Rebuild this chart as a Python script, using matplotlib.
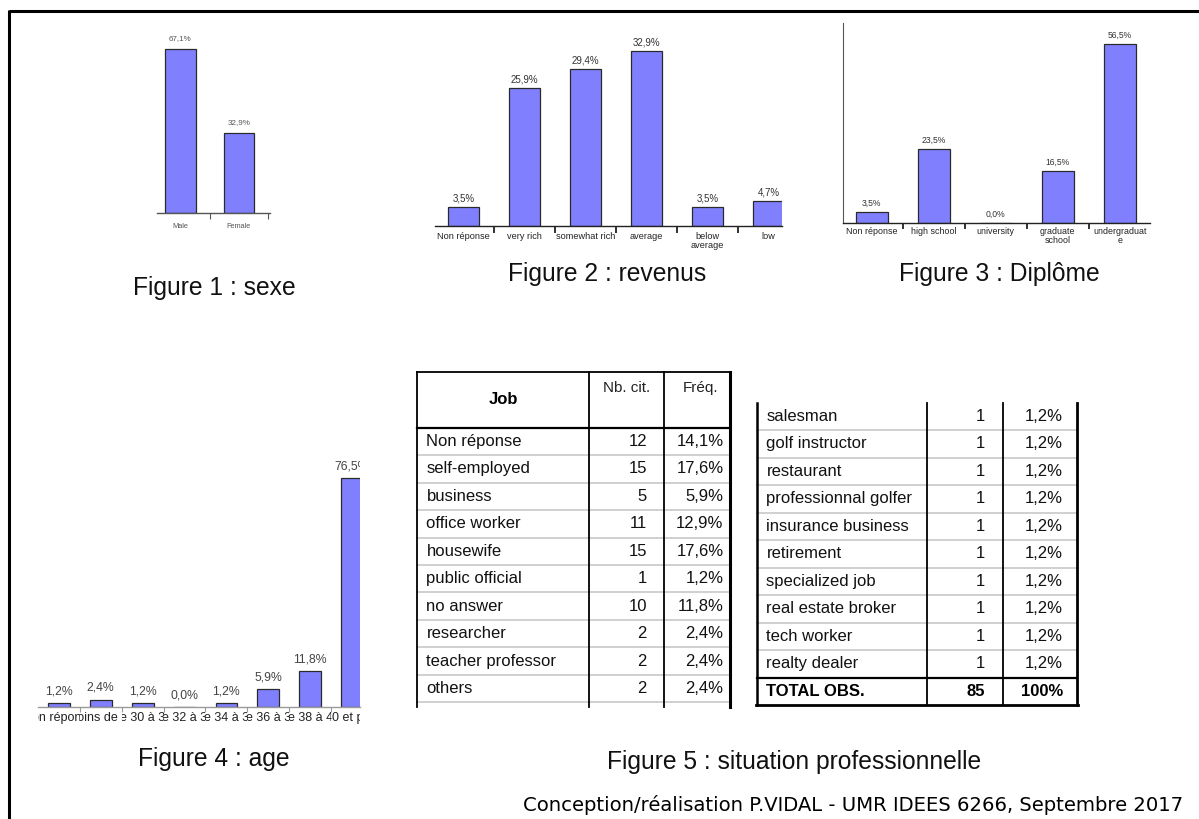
import matplotlib
matplotlib.use('Agg')
import matplotlib.pyplot as plt
from matplotlib import font_manager
from matplotlib.transforms import blended_transform_factory, Bbox, TransformedBbox

plt.rcParams['font.family'] = ['Liberation Sans', 'DejaVu Sans']

W, H = 1199, 819

# ---- data ----
sexe_labels = ['Male', 'Female']
sexe_pct = [67.1, 32.9]

revenus_labels = ['Non réponse', 'very rich', 'somewhat rich', 'average', 'below\naverage', 'low']
revenus_pct = [3.5, 25.9, 29.4, 32.9, 3.5, 4.7]

diplome_labels = ['Non réponse', 'high school', 'university', 'graduate\nschool', 'undergraduat\ne']
diplome_pct = [3.5, 23.5, 0.0, 16.5, 56.5]

age_labels = ['Non réponse', 'moins de 30', 'de 30 à 32', 'de 32 à 34', 'de 34 à 36',
              'de 36 à 38', 'de 38 à 40', '40 et plus']
age_pct = [1.2, 2.4, 1.2, 0.0, 1.2, 5.9, 11.8, 76.5]

jobs_a = ['Non réponse', 'self-employed', 'business', 'office worker', 'housewife',
          'public official', 'no answer', 'researcher', 'teacher professor', 'others']
cit_a = [12, 15, 5, 11, 15, 1, 10, 2, 2, 2]
freq_a = [14.1, 17.6, 5.9, 12.9, 17.6, 1.2, 11.8, 2.4, 2.4, 2.4]

jobs_b = ['salesman', 'golf instructor', 'restaurant', 'professionnal golfer', 'insurance business',
          'retirement', 'specialized job', 'real estate broker', 'tech worker', 'realty dealer']
cit_b = [1, 1, 1, 1, 1, 1, 1, 1, 1, 1]
freq_b = [1.2, 1.2, 1.2, 1.2, 1.2, 1.2, 1.2, 1.2, 1.2, 1.2]
total_cit = 85
total_freq = '100%'

BAR = '#8080ff'
EDGE = '#2a2a2a'

names = {f.name for f in font_manager.fontManager.ttflist}
if 'Liberation Sans Narrow' in names:
    title_font, title_size = 'Liberation Sans Narrow', 21.5
else:
    title_font, title_size = 'Liberation Sans', 17.7


def pct(v):
    return f"{v:.1f}".replace('.', ',') + '%'


fig = plt.figure(figsize=(W / 100, H / 100), dpi=100)


def px_axes(left, top, right, bottom):
    return fig.add_axes([left / W, 1 - bottom / H, (right - left) / W, (bottom - top) / H])


# overlay in pixel coords: frame, titles, tables, credits
ax0 = px_axes(0, 0, W, H)
ax0.set_xlim(0, W)
ax0.set_ylim(H, 0)
ax0.axis('off')
ax0.plot([8.5, W], [10.5, 10.5], color='black', lw=2.2, solid_capstyle='butt')
ax0.plot([9, 9], [10, H], color='black', lw=2.2, solid_capstyle='butt')


def bar_panel(box, labels, values, xlim, ymax, val_size, val_off, val_color,
              lab_size, lab_pad, lab_color, tick_len, tick_w, spine_color, show_left=False,
              tick_labels=True, clip_vals=False):
    ax = px_axes(*box)
    ax.set_facecolor('none')
    x = list(range(len(values)))
    bars = ax.bar(x, values, width=0.52, color=BAR, edgecolor=EDGE, linewidth=0.9)
    for s in ['top', 'right']:
        ax.spines[s].set_visible(False)
    ax.spines['left'].set_visible(show_left)
    ax.spines['left'].set_color('#555555')
    ax.spines['bottom'].set_color(spine_color)
    ax.spines['bottom'].set_linewidth(1.0)
    ax.set_yticks([])
    ax.set_xticks([i + 0.5 for i in x])
    ax.set_xticklabels([])
    ax.tick_params(axis='x', which='major', length=tick_len, width=tick_w, color=spine_color)
    if tick_labels:
        ax.set_xticks(x, minor=True)
        ax.set_xticklabels(labels, minor=True, fontsize=lab_size, color=lab_color,
                           linespacing=1.0)
        ax.tick_params(axis='x', which='minor', length=0, pad=lab_pad)
    # limits after the ticks, so the boundary ticks do not widen the view
    ax.set_xlim(*xlim)
    ax.set_ylim(0, ymax)
    for b, v in zip(bars, values):
        ax.annotate(pct(v), (b.get_x() + b.get_width() / 2, v), xytext=(0, val_off),
                    textcoords='offset points', ha='center', va='center',
                    fontsize=val_size, color=val_color, annotation_clip=False,
                    clip_on=clip_vals)
    return ax


# Figure 1 : sexe
bar_panel((157, 30, 270, 213), sexe_labels, sexe_pct, (-0.4, 1.53), 183 / 2.444,
          5.8, 7.5, '#555555', 5.3, 7.5, '#555555', 4.5, 0.8, '#555555')

# Figure 2 : revenus
bar_panel((435, 30, 782, 225.7), revenus_labels, revenus_pct, (-0.467, 5.22), 195.7 / 5.32,
          7.0, 6.2, '#333333', 6.6, 4.6, '#222222', 5.0, 1.3, '#222222')

# Figure 3 : Diplôme
bar_panel((842.7, 23, 1150, 223), diplome_labels, diplome_pct, (-0.47, 4.49), 200 / 3.168,
          6.2, 6.2, '#333333', 6.4, 3.2, '#222222', 4.5, 1.3, '#222222', show_left=True)

# Figure 4 : age
age_xlim = (-0.5, 7.19)
ax4 = bar_panel((38, 440, 360, 706.7), age_labels, age_pct, age_xlim, 266.7 / 2.986,
                8.8, 8.4, '#444444', 9, 0, '#222222', 3.5, 0.8, '#999999',
                tick_labels=False, clip_vals=True)
ax4.spines['bottom'].set_color('#9a9a9a')
trans4 = blended_transform_factory(ax4.transData, ax4.transAxes)
for i, lab in enumerate(age_labels):
    t = ax4.text(i, -0.042, lab, transform=trans4, ha='center', va='center',
                 fontsize=9, color='#222222')
    t.set_clip_path(None)
    x0 = max(i - 0.5, age_xlim[0])
    x1 = min(i + 0.5, age_xlim[1])
    t.set_clip_box(TransformedBbox(Bbox([[x0, -1], [x1, 1]]), trans4))
    t.set_clip_on(True)

# titles
tkw = dict(ha='center', va='center', fontsize=title_size, family=title_font, color='#111111')
ax0.text(214, 288, 'Figure 1 : sexe', **tkw)
ax0.text(607, 274, 'Figure 2 : revenus', **tkw)
ax0.text(999.5, 274, 'Figure 3 : Diplôme', **tkw)
ax0.text(214, 759, 'Figure 4 : age', **tkw)
ax0.text(794.5, 762, 'Figure 5 : situation professionnelle', **tkw)

ax0.text(1183, 805, 'Conception/réalisation P.VIDAL - UMR IDEES 6266, Septembre 2017',
         ha='right', va='center', fontsize=14.1, family='DejaVu Sans', color='black')

# Table 1
GRAY = '#c8c8c8'
FS = 12
L1, C1a, C1b, R1 = 416.7, 589, 664, 730
TOP1, HDR1, RH = 372.3, 427.7, 27.46
BOT1 = 707
for k in range(1, len(jobs_a) + 1):
    y = HDR1 + k * RH
    ax0.plot([L1, R1], [y, y], color=GRAY, lw=1.2)
ax0.plot([L1, R1], [TOP1, TOP1], color='black', lw=1.3)
ax0.plot([L1, R1], [HDR1, HDR1], color='black', lw=1.6)
ax0.plot([L1, L1], [TOP1, BOT1], color='black', lw=1.3)
ax0.plot([C1a, C1a], [TOP1, BOT1], color='black', lw=1.3)
ax0.plot([C1b, C1b], [TOP1, BOT1], color='black', lw=1.3)
ax0.plot([R1, R1], [TOP1, BOT1], color='black', lw=2.2)
ax0.text(503, 400, 'Job', ha='center', va='center', fontsize=FS, fontweight='bold')
ax0.text(627, 388, 'Nb. cit.', ha='center', va='center', fontsize=FS - 1, color='#222222')
ax0.text(701, 388, 'Fréq.', ha='center', va='center', fontsize=FS - 1, color='#222222')
for i, (j, c, f) in enumerate(zip(jobs_a, cit_a, freq_a)):
    y = HDR1 + (i + 0.5) * RH
    ax0.text(426.5, y, j, ha='left', va='center', fontsize=FS, color='#111111')
    ax0.text(647, y, str(c), ha='right', va='center', fontsize=FS, color='#111111')
    ax0.text(723.5, y, pct(f), ha='right', va='center', fontsize=FS, color='#111111')

# Table 2
L2, C2a, C2b, R2 = 757.3, 926.7, 1003.3, 1077
TOP2, RH2 = 402.5, 27.5
TOT2 = TOP2 + len(jobs_b) * RH2
BOT2 = TOT2 + RH2
for k in range(1, len(jobs_b)):
    y = TOP2 + k * RH2
    ax0.plot([L2, R2], [y, y], color=GRAY, lw=1.2)
ax0.plot([L2, R2], [TOT2, TOT2], color='black', lw=1.6)
ax0.plot([L2 - 1, R2 + 1], [BOT2, BOT2], color='black', lw=2.0)
ax0.plot([L2, L2], [TOP2, BOT2], color='black', lw=1.8)
ax0.plot([C2a, C2a], [TOP2, BOT2], color='black', lw=1.3)
ax0.plot([C2b, C2b], [TOP2, BOT2], color='black', lw=1.3)
ax0.plot([R2, R2], [TOP2, BOT2], color='black', lw=2.0)
for i, (j, c, f) in enumerate(zip(jobs_b, cit_b, freq_b)):
    y = TOP2 + (i + 0.5) * RH2
    ax0.text(766.5, y, j, ha='left', va='center', fontsize=FS, color='#111111')
    ax0.text(985, y, str(c), ha='right', va='center', fontsize=FS, color='#111111')
    ax0.text(1063, y, pct(f), ha='right', va='center', fontsize=FS, color='#111111')
yt = TOT2 + RH2 / 2
ax0.text(766.5, yt, 'TOTAL OBS.', ha='left', va='center', fontsize=FS, fontweight='bold')
ax0.text(985, yt, str(total_cit), ha='right', va='center', fontsize=FS, fontweight='bold')
ax0.text(1063, yt, total_freq, ha='right', va='center', fontsize=FS, fontweight='bold')

fig.savefig('out.png', dpi=100)
